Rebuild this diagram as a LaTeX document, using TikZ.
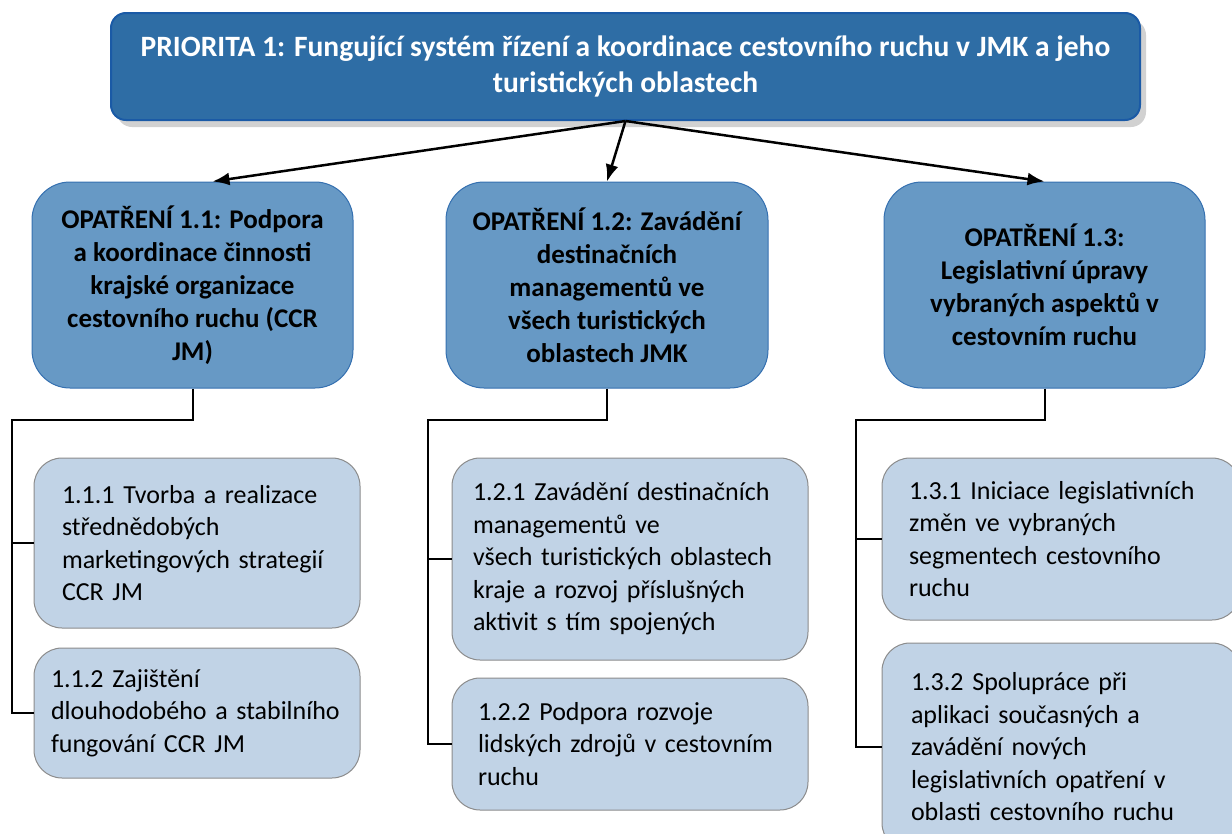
\documentclass[tikz,border=0pt]{standalone}
\usepackage{fontspec}
\setmainfont{Carlito}
\usetikzlibrary{arrows.meta,shadows}

\definecolor{prioblue}{HTML}{2E6DA5}
\definecolor{prioedge}{HTML}{1A5AA6}
\definecolor{opblue}{HTML}{6799C5}
\definecolor{opedge}{HTML}{3570B0}
\definecolor{aktfill}{HTML}{C1D3E6}
\definecolor{aktedge}{HTML}{8C8C8C}

\tikzset{
  prio/.style={draw=prioedge, line width=2pt, fill=prioblue, rounded corners=15pt,
    text=white, font=\bfseries\fontsize{29.5}{36}\selectfont, align=center,
    minimum width=1029pt, minimum height=107pt, inner sep=0pt,
    drop shadow={shadow xshift=6pt, shadow yshift=-7pt, fill=black!18, opacity=1}},
  opatreni/.style={draw=opedge, line width=1pt, fill=opblue, rounded corners=38pt,
    font=\bfseries\fontsize{27}{33}\selectfont, align=center,
    minimum width=321pt, minimum height=206pt, inner sep=0pt},
  aktivita/.style={draw=aktedge, line width=1pt, fill=aktfill, rounded corners=28pt,
    font=\fontsize{26}{32.5}\selectfont, align=left, inner ysep=0pt},
  arrow/.style={line width=2.5pt, -{Latex[length=17pt,width=13pt]}},
  tree/.style={line width=2pt},
}

\begin{document}
\begin{tikzpicture}[x=1pt,y=-1pt]
\useasboundingbox (0,0) rectangle (1232,833);

% priorita
\node[prio] (prio) at (625.5,66.5) {PRIORITA 1: Fungující systém řízení a koordinace cestovního ruchu v JMK a jeho\\turistických oblastech};

% opatreni
\node[opatreni] (op1) at (192.5,285) {OPATŘENÍ 1.1: Podpora\\a koordinace činnosti\\krajské organizace\\cestovního ruchu (CCR\\JM)};
\node[opatreni, minimum width=322pt] (op2) at (607,285) {OPATŘENÍ 1.2: Zavádění\\destinačních\\managementů ve\\všech turistických\\oblastech JMK};
\node[opatreni] (op3) at (1044.5,285) {OPATŘENÍ 1.3:\\Legislativní úpravy\\vybraných aspektů v\\cestovním ruchu};

\draw[arrow] (prio.south) -- ([xshift=20pt]op1.north);
\draw[arrow] (prio.south) -- (op2.north);
\draw[arrow] (prio.south) -- (op3.north);

% aktivity
\node[aktivita, minimum height=170pt, text width=270pt, inner xsep=28pt] (a111) at (197,543) {1.1.1 Tvorba a realizace\\střednědobých\\marketingových strategií\\CCR JM};
\node[aktivita, minimum height=130pt, text width=292pt, inner xsep=17pt] (a112) at (197,713) {1.1.2 Zajištění\\dlouhodobého a stabilního\\fungování CCR JM};

\node[aktivita, minimum height=202pt, text width=314pt, inner xsep=21pt] (a121) at (630,559) {1.2.1 Zavádění destinačních\\managementů ve\\všech turistických oblastech\\kraje a rozvoj příslušných\\aktivit s tím spojených};
\node[aktivita, minimum height=132pt, text width=304pt, inner xsep=26pt] (a122) at (630,744) {1.2.2 Podpora rozvoje\\lidských zdrojů v cestovním\\ruchu};

\node[aktivita, minimum height=162pt, text width=304pt, inner xsep=27pt] (a131) at (1061,539) {1.3.1 Iniciace legislativních\\změn ve vybraných\\segmentech cestovního\\ruchu};
\node[aktivita, minimum height=208pt, text width=300pt, inner xsep=29pt] (a132) at (1061,747) {1.3.2 Spolupráce při\\aplikaci současných a\\zavádění nových\\legislativních opatření v\\oblasti cestovního ruchu};

% vetve
\coordinate (v1) at (12,420);
\coordinate (v2) at (428,420);
\coordinate (v3) at (856,420);

\draw[tree] (op1.south) |- (v1) |- (a111.west);
\draw[tree] (v1) |- (a112.west);
\draw[tree] (op2.south) |- (v2) |- (a121.west);
\draw[tree] (v2) |- (a122.west);
\draw[tree] (op3.south) |- (v3) |- (a131.west);
\draw[tree] (v3) |- (a132.west);

\end{tikzpicture}
\end{document}
